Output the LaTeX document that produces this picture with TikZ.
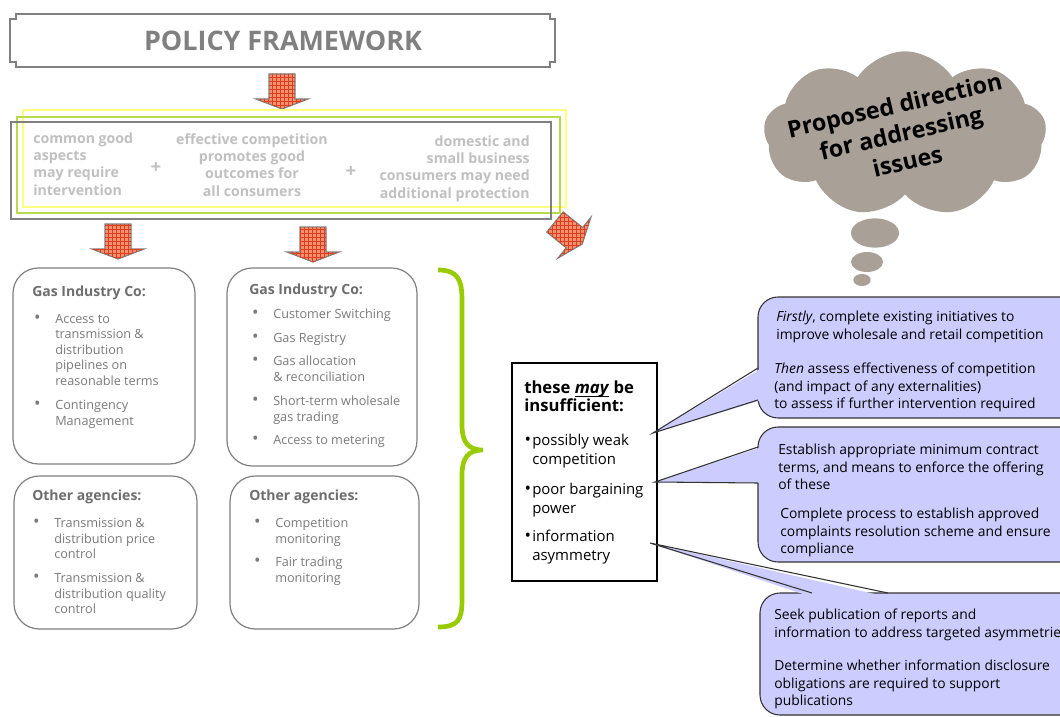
\documentclass[tikz,border=0pt]{standalone}
\usepackage{fontspec}
\setmainfont{Open Sans}
\usetikzlibrary{positioning, calc, shapes.symbols, patterns}

\definecolor{framegray}{HTML}{808080}
\definecolor{softgray}{HTML}{C0C0C0}
\definecolor{headgray}{HTML}{6E6E6E}
\definecolor{bodygray}{HTML}{7A7A7A}
\definecolor{leafgreen}{HTML}{99CC00}
\definecolor{paleyellow}{HTML}{FFFF80}
\definecolor{arrowfill}{HTML}{F29070}
\definecolor{arrowline}{HTML}{DD3E1E}
\definecolor{cloudfill}{HTML}{A9A097}
\definecolor{callfill}{HTML}{CCCCFF}
\definecolor{callline}{HTML}{333333}

% bullet hanging left of the first line
\newcommand{\blt}[1][11pt]{\llap{{\fontsize{13}{12}\selectfont\textbullet}\hspace{#1}}}

\tikzset{
  blockarrow/.pic={
    \filldraw[draw=framegray, line width=0.9pt, fill=arrowfill,
      postaction={pattern=grid, pattern color=arrowline}]
      (-13,0) -- (13,0) -- (13,25) -- (26,25) -- (0,35) -- (-26,25) -- (-13,25) -- cycle;
  },
  roundbox/.style={draw=framegray, line width=0.9pt, rounded corners=19pt},
  head/.style={anchor=west, inner sep=0pt, text=headgray, font=\fontsize{10.5}{12}\selectfont\bfseries},
  body/.style={anchor=north west, inner sep=0pt, align=left, text=bodygray, font=\fontsize{9.5}{11.6}\selectfont},
  softtxt/.style={inner sep=0pt, text=softgray, font=\fontsize{10.6}{13}\selectfont\bfseries},
  gaptxt/.style={anchor=north west, inner sep=0pt, align=left, font=\fontsize{11.2}{14}\selectfont},
  calltxt/.style={anchor=north west, inner sep=0pt, align=left, font=\fontsize{10.4}{12.9}\selectfont},
  callout/.style={draw=callline, line width=0.8pt, fill=callfill, rounded corners=15pt},
}

\begin{document}
\begin{tikzpicture}[x=0.75pt, y=-0.75pt]
\useasboundingbox (0,0) rectangle (1060,717);
\fill[white] (0,0) rectangle (1060,717);
\clip (0,0) rectangle (1060,717);

% title plate with stepped corners
\draw[framegray, line width=1pt] (16,14) -- (550,14) -- (550,19) -- (555,19) -- (555,62) -- (550,62)
  -- (550,67) -- (16,67) -- (16,62) -- (10,62) -- (10,19) -- (16,19) -- cycle;
\node[text=framegray, font=\fontsize{20.2}{24}\selectfont\bfseries] (policy) at (283,41) {POLICY FRAMEWORK};
\pic at (282,74) {blockarrow};

% framework panel
\draw[paleyellow, line width=1pt] (23,110) rectangle (566,207);
\draw[leafgreen!70, line width=1pt] (17,117) rectangle (560,213);
\draw[framegray, line width=1pt] (11,122) rectangle (551,219);
\node[softtxt, anchor=north west, align=left] (common) at (33,132) {common good\\aspects\\may require\\intervention};
\node[softtxt, font=\fontsize{14}{14}\selectfont\bfseries] (plusA) at (156,168) {+};
\node[softtxt, anchor=north, align=center] (effective) at (252,133) {effective competition\\promotes good\\outcomes for\\all consumers};
\node[softtxt, font=\fontsize{14}{14}\selectfont\bfseries] (plusB) at (351,172) {+};
\node[softtxt, anchor=north east, align=right] (domestic) at (530,135) {domestic and\\small business\\consumers may need\\additional protection};

\pic at (118,224) {blockarrow};
\pic at (313,227) {blockarrow};
\pic[rotate=51] at (555,222) {blockarrow};

% who does what
\draw[roundbox] (13,268) rectangle (195,464);
\draw[roundbox] (227,268) rectangle (417,466);
\draw[roundbox] (14,476) rectangle (197,629);
\draw[roundbox] (230,476) rectangle (419,629);

\node[head] (gicA) at (32,293) {Gas Industry Co:};
\node[body] (access) at (55,314) {\blt Access to\\transmission \&\\distribution\\pipelines on\\reasonable terms};
\node[body] (conting) at (55,400) {\blt Contingency\\Management};

\node[head] (gicB) at (249,291) {Gas Industry Co:};
\node[body] (switch) at (273,309) {\blt Customer Switching};
\node[body] (registry) at (273,333) {\blt Gas Registry};
\node[body] (alloc) at (273,356) {\blt Gas allocation\\\& reconciliation};
\node[body] (trading) at (273,396) {\blt Short-term wholesale\\gas trading};
\node[body] (meter) at (273,435) {\blt Access to metering};

\node[head] (agencyA) at (32,497) {Other agencies:};
\node[body] (price) at (54,518) {\blt Transmission \&\\distribution price\\control};
\node[body] (quality) at (54,573) {\blt Transmission \&\\distribution quality\\control};

\node[head] (agencyB) at (249,497) {Other agencies:};
\node[body] (compmon) at (275,518) {\blt Competition\\monitoring};
\node[body] (fairmon) at (275,557) {\blt Fair trading\\monitoring};

% green brace
\draw[leafgreen, line width=3.5pt] (438,270) .. controls (458,270) and (462,280) .. (462,300) -- (462,425)
  .. controls (462,442) and (468,450) .. (483,450) .. controls (468,450) and (462,458) .. (462,475)
  -- (462,600) .. controls (462,620) and (458,627) .. (438,627);

% gaps box
\draw[black, line width=0.9pt] (512,363) rectangle (657,581);
\node[gaptxt, font=\fontsize{12.5}{13.5}\selectfont\bfseries] (gaps) at (524,381) {these \underline{\smash{\textit{may}}} be\\insufficient:};
\node[gaptxt] (weak) at (532,434) {\blt[0.8pt]possibly weak\\competition};
\node[gaptxt] (power) at (532,483) {\blt[0.8pt]poor bargaining\\power};
\node[gaptxt] (asym) at (532,530) {\blt[0.8pt]information\\asymmetry};

\coordinate (tipA) at (653,433);
\coordinate (tipB) at (655,482);
\coordinate (tipC) at (650,543);

% thought cloud
\node[cloud, cloud puffs=9, cloud puff arc=115, aspect=1.7, fill=cloudfill,
  minimum width=212pt, minimum height=124pt] (cloud) at (905,134) {};
\node[rotate=13, align=center, font=\fontsize{17.5}{21.5}\selectfont\bfseries] (cloudtxt) at (901,133)
  {Proposed direction\\for addressing\\issues};
\fill[cloudfill] (875,233) ellipse [x radius=18pt, y radius=11pt];
\fill[cloudfill] (867,262) ellipse [x radius=12pt, y radius=7.5pt];
\fill[cloudfill] (862,280) ellipse [x radius=6.5pt, y radius=4.5pt];

% callouts
\draw[callout] (758,297) rectangle (1085,418);
\fill[callfill] (762,368) -- (tipA) -- (762,400) -- cycle;
\draw[callline, line width=0.8pt] (758,368) -- (tipA) -- (758,400);
\node[calltxt] (firstly) at (776,311) {\textit{Firstly}, complete existing initiatives to\\improve wholesale and retail competition};
\node[calltxt] (then) at (774,363) {\textit{Then} assess effectiveness of competition\\(and impact of any externalities)\\to assess if further intervention required};

\draw[callout] (758,427) rectangle (1085,562);
\fill[callfill] (762,447) -- (tipB) -- (762,483) -- cycle;
\draw[callline, line width=0.8pt] (758,447) -- (tipB) -- (758,483);
\node[calltxt] (minterms) at (778,444) {Establish appropriate minimum contract\\terms, and means to enforce the offering\\of these};
\node[calltxt] (complaints) at (780,508) {Complete process to establish approved\\complaints resolution scheme and ensure\\compliance};

\draw[callout] (760,593) rectangle (1085,715);
\fill[callfill] (812,597) -- (tipC) -- (888,597) -- cycle;
\draw[callline, line width=0.8pt] (812,593) -- (tipC) -- (888,593);
\node[calltxt] (publish) at (774,609) {Seek publication of reports and\\information to address targeted asymmetries};
\node[calltxt] (disclose) at (774,660) {Determine whether information disclosure\\obligations are required to support\\publications};
\end{tikzpicture}
\end{document}
